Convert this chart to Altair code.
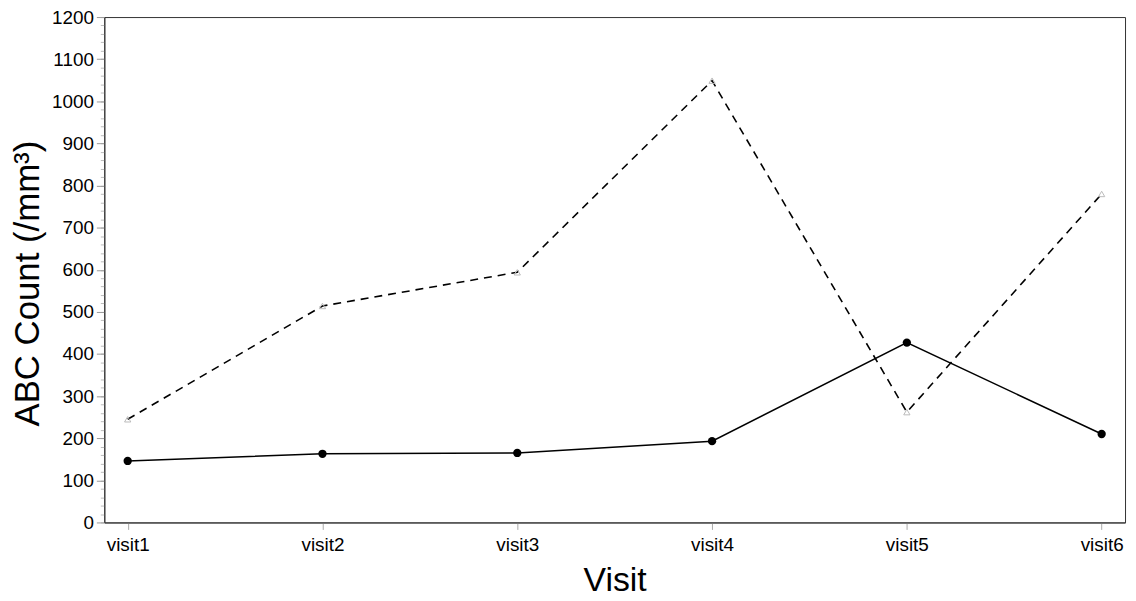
import altair as alt
import pandas as pd

visits = ["visit1", "visit2", "visit3", "visit4", "visit5", "visit6"]
solid_values = [146, 163, 165, 193, 427, 210]
dashed_values = [245, 514, 594, 1049, 262, 780]
major_ticks = list(range(0, 1201, 100))
minor_ticks = list(range(0, 1201, 20))

solid = pd.DataFrame({"visit": visits, "count": solid_values})
dashed = pd.DataFrame({"visit": visits, "count": dashed_values})

FONT = "Liberation Sans"
xscale = alt.Scale(type="point", padding=0.12)
yscale = alt.Scale(domain=[0, 1200], nice=False)

xaxis = alt.Axis(title="Visit", labelAngle=0, labelAlign="center", labelBaseline="top",
                 labelFontSize=19, titleFontSize=34,
                 titleFont=FONT, labelFont=FONT, titleFontWeight="normal",
                 labelFontWeight="normal",
                 titleColor="black", labelColor="black", tickColor="#aaaaaa",
                 tickSize=7, domainColor="#333333", labelPadding=6, titlePadding=10)
xenc = alt.X("visit:N", scale=xscale, sort=visits, axis=xaxis)
yaxis = alt.Axis(title="ABC Count (/mm³)", values=major_ticks, format="d", labelFontSize=19,
                 titleFontSize=35, titleFont=FONT, labelFont=FONT, titleFontWeight="normal",
                 labelFontWeight="normal", titleColor="black", titleY=268,
                 labelColor="black", tickColor="#999999", tickSize=8, domainColor="#333333",
                 grid=False, labelPadding=3, titlePadding=6, orient="left")

solid_line = alt.Chart(solid).mark_line(color="black", strokeWidth=1.5).encode(
    x=xenc, y=alt.Y("count:Q", scale=yscale, axis=yaxis))
solid_pts = alt.Chart(solid).mark_point(shape="circle", filled=True, color="black", size=70, opacity=1).encode(
    x=xenc, y=alt.Y("count:Q", scale=yscale, axis=None))
dashed_line = alt.Chart(dashed).mark_line(color="black", strokeWidth=1.6, strokeDash=[8, 6]).encode(
    x=xenc, y=alt.Y("count:Q", scale=yscale, axis=None))
dashed_pts = alt.Chart(dashed).mark_point(shape="triangle-up", filled=False, color="#bbbbbb", size=40,
                                          strokeWidth=1, opacity=1).encode(
    x=xenc, y=alt.Y("count:Q", scale=yscale, axis=None))

minor = alt.Chart(pd.DataFrame({"v": minor_ticks})).mark_point(opacity=0).encode(
    y=alt.Y("v:Q", scale=yscale,
            axis=alt.Axis(title=None, values=minor_ticks, labels=False, domain=False, grid=False,
                          tickSize=4, tickColor="#bbbbbb", orient="left")))

chart = alt.layer(minor, dashed_line, solid_line, dashed_pts, solid_pts).resolve_axis(
    y="independent").properties(
    width=1028, height=509,
    background="white",
    autosize=alt.AutoSizeParams(type="none"),
    padding={"left": 97, "top": 7, "right": 3, "bottom": 80},
).configure_view(stroke="#333333", strokeWidth=1)

chart.save("out.html", embed_options={"renderer": "svg", "actions": False})
